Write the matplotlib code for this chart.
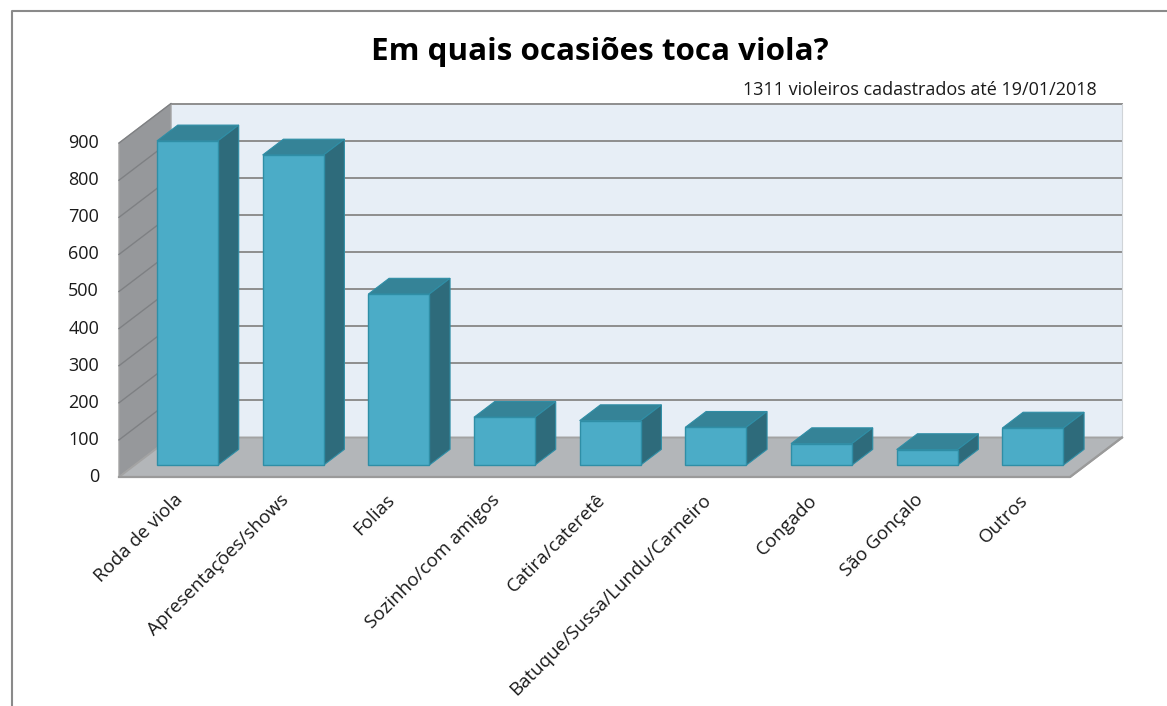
import matplotlib
matplotlib.use("Agg")
import matplotlib.pyplot as plt
from matplotlib.patches import Polygon

# ---------------- data ----------------
categories = ["Roda de viola", "Apresentações/shows", "Folias", "Sozinho/com amigos",
              "Catira/cateretê", "Batuque/Sussa/Lundu/Carneiro", "Congado",
              "São Gonçalo", "Outros"]
values = [874, 836, 461, 129, 120, 102, 58, 42, 100]
yticks = [0, 100, 200, 300, 400, 500, 600, 700, 800, 900]
title = "Em quais ocasiões toca viola?"
subtitle = "1311 violeiros cadastrados até 19/01/2018"

# ---------------- layout (pixels) ----------------
W, H = 1167, 706
DPI = 100
FRONT_LEFT_PX = 119.0      # front-left corner of floor
CAT_PX = 105.67            # pixels per category on front plane
ZERO_PX = 477.0            # y pixel (from top) of value 0 on front plane
UNIT_PX = 0.371            # pixels per value unit
DEPTH_DX_PX, DEPTH_DY_PX = 52.0, 39.5
YMAX = 900

font = ["Open Sans", "DejaVu Sans"]
plt.rcParams["font.family"] = font

fig = plt.figure(figsize=(W / DPI, H / DPI), dpi=DPI)
fig.patch.set_facecolor("white")
ax = fig.add_axes([0, 0, 1, 1])
ax.set_axis_off()
ax.set_xlim(-0.5 - FRONT_LEFT_PX / CAT_PX, -0.5 + (W - FRONT_LEFT_PX) / CAT_PX)
ax.set_ylim(-(H - ZERO_PX) / UNIT_PX, ZERO_PX / UNIT_PX)

n = len(categories)
x0, x1 = -0.5, n - 0.5
dxf = DEPTH_DX_PX / CAT_PX
dyf = DEPTH_DY_PX / UNIT_PX

wall_back = "#E7EEF6"
wall_left = "#96989B"
floor_c = "#B3B6B9"
grid_c = "#8E8E8E"
edge_c = "#A3A3A3"

# back wall
ax.add_patch(Polygon([(x0 + dxf, dyf), (x1 + dxf, dyf), (x1 + dxf, YMAX + dyf), (x0 + dxf, YMAX + dyf)],
                     closed=True, facecolor=wall_back, edgecolor="none", zorder=1))
# left wall
ax.add_patch(Polygon([(x0, 0), (x0 + dxf, dyf), (x0 + dxf, YMAX + dyf), (x0, YMAX)],
                     closed=True, facecolor=wall_left, edgecolor=edge_c, lw=1.0, zorder=2))
# gridlines
for v in yticks[1:]:
    ax.plot([x0 + dxf, x1 + dxf], [v + dyf, v + dyf], color=grid_c, lw=1.4, zorder=1.5)
    ax.plot([x0, x0 + dxf], [v, v + dyf], color="#7E8083", lw=1.0, zorder=2.5)
# back wall right edge
ax.plot([x1 + dxf, x1 + dxf], [dyf, YMAX + dyf], color="#D0D4D8", lw=0.8, zorder=1.6)
# floor
ax.add_patch(Polygon([(x0, 0), (x1, 0), (x1 + dxf, dyf), (x0 + dxf, dyf)],
                     closed=True, facecolor=floor_c, edgecolor=edge_c, lw=1.4, zorder=2))
ax.plot([x0, x1, x1 + dxf], [0, 0, dyf], color="#9A9A9A", lw=1.6, zorder=2.1)

# bars
front_c = "#4BACC7"
top_c = "#358397"
side_c = "#2E6B7B"
bar_edge = "#2F8EA6"
d0, d1 = 0.30, 0.70
bw = 0.577
xs = [i + d0 * dxf for i in range(n)]
bars = ax.bar(xs, values, width=bw, bottom=d0 * dyf, color=front_c,
              edgecolor=bar_edge, linewidth=1.0, zorder=5)
ddx, ddy = (d1 - d0) * dxf, (d1 - d0) * dyf
for rect in bars:
    xl = rect.get_x()
    xr = xl + rect.get_width()
    yb = rect.get_y()
    yt = yb + rect.get_height()
    ax.add_patch(Polygon([(xl, yt), (xr, yt), (xr + ddx, yt + ddy), (xl + ddx, yt + ddy)],
                         closed=True, facecolor=top_c, edgecolor=bar_edge, lw=0.8, zorder=4))
    ax.add_patch(Polygon([(xr, yb), (xr + ddx, yb + ddy), (xr + ddx, yt + ddy), (xr, yt)],
                         closed=True, facecolor=side_c, edgecolor=bar_edge, lw=0.8, zorder=4))

# y tick labels
for v in yticks:
    ax.text(x0 - 20 / CAT_PX, v, str(v), ha="right", va="center", fontsize=13,
            color="#1A1A1A", zorder=6)

# category labels
for i, c in enumerate(categories):
    ax.text(i + 2 / CAT_PX, -14 / UNIT_PX, c, rotation=45, ha="right", va="top",
            rotation_mode="anchor", fontsize=13.5, color="#1A1A1A", zorder=6)

# titles
fig.text(600 / W, 1 - 52 / H, title, ha="center", va="center", fontsize=22.6,
         fontweight="bold", color="black")
fig.text(1097 / W, 1 - 90 / H, subtitle, ha="right", va="center", fontsize=13, color="#1A1A1A")

# outer frame (left and top visible)
fig.add_artist(plt.Line2D([12 / W, 12 / W, 1.0], [0, 1 - 11 / H, 1 - 11 / H],
                          transform=fig.transFigure, color="#8A8A8A", lw=1.5))

fig.savefig("out.png", dpi=DPI)
